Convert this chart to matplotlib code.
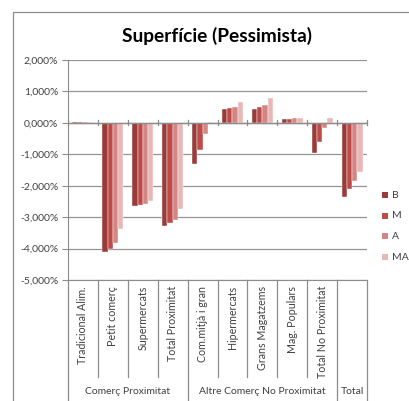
import matplotlib
matplotlib.use("Agg")
import matplotlib.pyplot as plt
import matplotlib.transforms as mtransforms
from matplotlib.lines import Line2D
from matplotlib.patches import Rectangle
import numpy as np

plt.rcParams['font.family'] = ['Lato', 'DejaVu Sans']

categories = ["Tradicional Alim.", "Petit comerç", "Supermercats", "Total Proximitat",
              "Com.mitjà i gran", "Hipermercats", "Grans Magatzems", "Mag. Populars",
              "Total No Proximitat", ""]
groups = ["Comerç Proximitat", "Altre Comerç No Proximitat", "Total"]
group_bounds = [(0, 4), (4, 9), (9, 10)]
series = ["B", "M", "A", "MA"]
B = [0.03, -4.12, -2.63, -3.29, -1.32, 0.43, 0.44, 0.12, -0.96, -2.35]
M = [0.03, -4.01, -2.61, -3.18, -0.87, 0.46, 0.49, 0.12, -0.62, -2.12]
A = [0.02, -3.83, -2.58, -3.08, -0.34, 0.52, 0.58, 0.15, -0.16, -1.86]
MA = [0.02, -3.37, -2.50, -2.74, 0.03, 0.66, 0.80, 0.15, 0.17, -1.55]
values = [B, M, A, MA]
colors = ["#993B39", "#BE4B48", "#D38784", "#E6B8B7"]
yticks = [2, 1, 0, -1, -2, -3, -4, -5]

W, H = 409, 401
fig = plt.figure(figsize=(W / 100, H / 100), dpi=100)

def fx(px):
    return px / W

def fy(py):
    return 1 - py / H

ax = fig.add_axes([fx(68), fy(280), fx(367) - fx(68), fy(60) - fy(280)])
n = len(categories)
x = np.arange(n)
bw = 0.175
for i, (vals, c) in enumerate(zip(values, colors)):
    ax.bar(x + (i - 1.5) * bw, vals, width=bw, color=c, edgecolor='white', linewidth=0.3, zorder=3)

ax.set_xlim(-0.5, n - 0.5)
ax.set_ylim(-5, 2)
ax.set_yticks(yticks)
ax.set_yticklabels([f"{v:,.3f}%".replace(",", "X").replace(".", ",").replace("X", ".") for v in yticks],
                   fontsize=7.5, color="#404040")
ax.tick_params(axis='y', length=4, color="#8c8c8c", pad=3)
ax.set_xticks([])
ax.grid(axis='y', color="#959595", linewidth=0.9, zorder=0)
for s in ['top', 'right']:
    ax.spines[s].set_visible(False)
ax.spines['left'].set_color("#8c8c8c")
ax.spines['bottom'].set_color("#8c8c8c")
ax.axhline(0, color="#8c8c8c", linewidth=1.0, zorder=4)

# small ticks on zero axis at category boundaries
for k in range(n + 1):
    ax.plot([k - 0.5, k - 0.5], [-0.08, 0.08], color="#8c8c8c", linewidth=0.9, zorder=4, clip_on=False)

# category separators and labels below
trans = mtransforms.blended_transform_factory(ax.transData, fig.transFigure)
group_edges = set()
for a, b in group_bounds:
    group_edges.add(a)
    group_edges.add(b)
for k in range(n + 1):
    bottom = 400 if k in group_edges else 377
    fig.add_artist(Line2D([k - 0.5, k - 0.5], [fy(280), fy(bottom)], transform=trans,
                          color="#8c8c8c", linewidth=0.9))
for i, lab in enumerate(categories):
    if lab:
        fig.text(i, fy(286), lab, transform=trans, rotation=90, ha='center', va='top',
                 fontsize=7.7, color="#404040")
for g, (a, b) in zip(groups, group_bounds):
    fig.text((a + b - 1) / 2, fy(392), g, transform=trans, ha='center', va='center',
             fontsize=7.5, color="#404040")

# title
fig.text(fx(217), fy(36), "Superfície (Pessimista)", ha='center', va='center',
         fontsize=13.8, fontweight='bold', color="black")

# chart border
fig.add_artist(Line2D([fx(13), fx(13), 1.0], [0.0, fy(12), fy(12)], transform=fig.transFigure,
                      color="#8c8c8c", linewidth=0.9))

# legend
for j, (name, c) in enumerate(zip(series, colors)):
    yc = 195 + j * 20.7
    fig.add_artist(Rectangle((fx(382), fy(yc + 3)), fx(6), fy(yc - 3) - fy(yc + 3),
                             transform=fig.transFigure, facecolor=c, edgecolor='none'))
    fig.text(fx(392), fy(yc), name, ha='left', va='center', fontsize=7.5, color="#404040")

fig.savefig("out.png", dpi=100)
